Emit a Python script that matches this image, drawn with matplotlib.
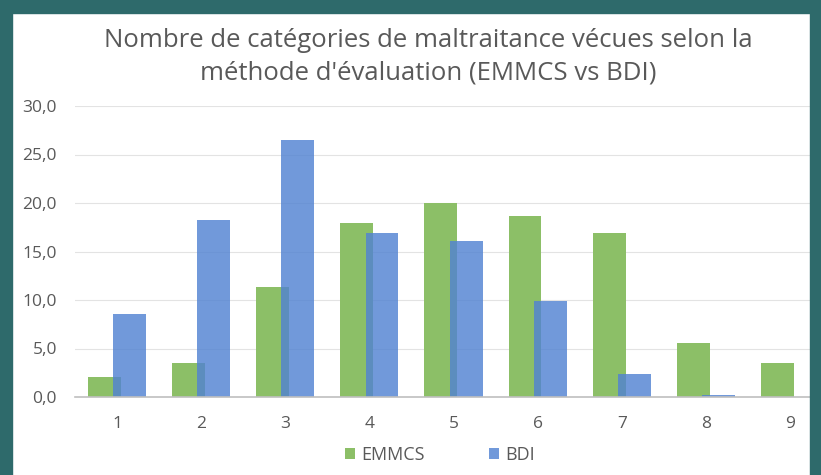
import matplotlib.pyplot as plt
from matplotlib.patches import Rectangle
import numpy as np

categories = ['1', '2', '3', '4', '5', '6', '7', '8', '9']
emmcs = [2.1, 3.5, 11.3, 17.9, 20.0, 18.7, 16.9, 5.6, 3.5]
bdi = [8.6, 18.2, 26.5, 16.9, 16.1, 9.9, 2.4, 0.2, 0.0]
yticks = [0, 5, 10, 15, 20, 25, 30]

plt.rcParams['font.family'] = ['Open Sans', 'DejaVu Sans']
gray = '#595959'

fig = plt.figure(figsize=(8.21, 4.75), dpi=100)
W, H = 821, 475

# axes spans past the right edge (chart is cropped in the reference)
ax = fig.add_axes([75 / W, 1 - 397 / H, (832 - 75) / W, (397 - 106) / H])

x = np.arange(len(categories))
ax.bar(x - 0.15, emmcs, width=0.39, color='#8cbf67', zorder=2, label='EMMCS')
ax.bar(x + 0.15, bdi, width=0.39, color='#5283d2', alpha=0.82, zorder=3, label='BDI')

ax.set_xlim(-0.5, len(categories) - 0.5)
ax.set_ylim(0, 30)
ax.set_yticks(yticks)
ax.set_yticklabels([f'{v:.1f}'.replace('.', ',') for v in yticks])
ax.set_xticks(x)
ax.set_xticklabels(categories)
ax.tick_params(length=0, labelsize=12.5, colors=gray, pad=14)
ax.tick_params(axis='y', pad=13)
ax.grid(axis='y', color='#e3e3e3', linewidth=0.8, zorder=0)
for s in ['top', 'right', 'left']:
    ax.spines[s].set_visible(False)
ax.spines['bottom'].set_color('#bfbfbf')
ax.spines['bottom'].set_linewidth(1.2)
ax.spines['bottom'].set_zorder(4)

fig.text(428 / W, 1 - 57 / H,
         "Nombre de catégories de maltraitance vécues selon la\nméthode d'évaluation (EMMCS vs BDI)",
         ha='center', va='center', fontsize=18.5, color=gray, linespacing=1.42)

fig.legend(loc='center', bbox_to_anchor=(440 / W, 1 - 455 / H), ncol=2, frameon=False,
           fontsize=13, labelcolor=gray, handlelength=0.55, handleheight=0.55,
           columnspacing=3.6, handletextpad=0.35)

# teal frame around the slide
teal = '#2e6a6b'
fig.patches.append(Rectangle((0, 0), 12 / W, 1, transform=fig.transFigure, color=teal, zorder=10))
fig.patches.append(Rectangle((0, 1 - 13 / H), 1, 13 / H, transform=fig.transFigure, color=teal, zorder=10))
fig.patches.append(Rectangle((810 / W, 0), 11 / W, 1, transform=fig.transFigure, color=teal, zorder=10))

fig.savefig('out.png', dpi=100)
